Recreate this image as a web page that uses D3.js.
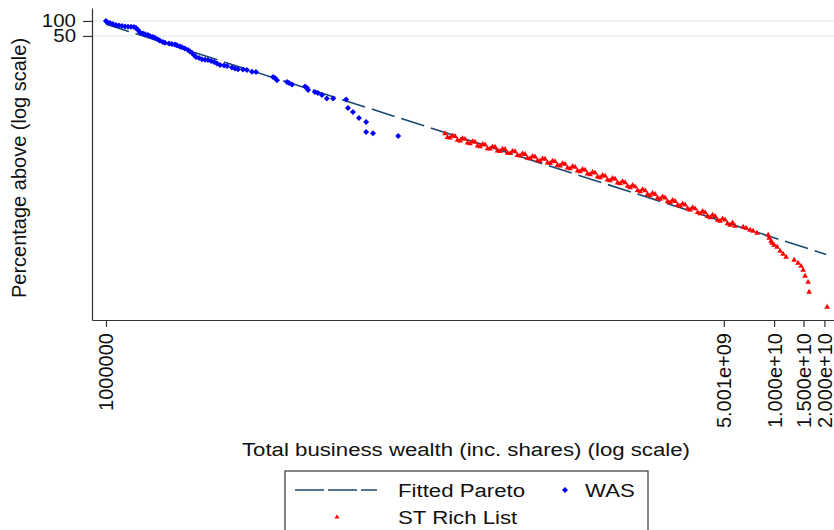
<!DOCTYPE html>
<html>
<head>
<meta charset="utf-8">
<script src="https://cdn.jsdelivr.net/npm/d3@7"></script>
<style>
  body { margin: 0; background: #fff; }
  text { font-family: "Liberation Sans", Arial, sans-serif; fill: #111; }
</style>
</head>
<body>
<div id="graph"></div>
<script>
// WAS survey points (wealth, % of population above)
const wasWealth = [
  1.00e6, 1.014e6, 1.057e6, 1.10e6, 1.148e6, 1.196e6, 1.247e6, 1.30e6, 1.355e6, 1.413e6,
  1.472e6, 1.514e6, 1.556e6, 1.60e6, 1.667e6, 1.714e6, 1.783e6, 1.834e6, 1.91e6, 1.965e6,
  2.05e6, 2.105e6, 2.19e6, 2.255e6, 2.385e6, 2.48e6, 2.59e6, 2.66e6, 2.77e6, 2.85e6,
  2.97e6, 3.10e6, 3.18e6, 3.27e6, 3.365e6, 3.46e6, 3.61e6, 3.76e6, 3.92e6, 4.08e6,
  4.26e6, 4.44e6, 4.62e6, 4.82e6, 5.09e6, 5.31e6, 5.68e6, 5.92e6, 6.17e6, 6.61e6,
  6.98e6, 7.48e6, 7.91e6, 1.0e7, 1.028e7, 1.057e7, 1.213e7, 1.247e7, 1.30e7, 1.556e7,
  1.60e7, 1.622e7, 1.782e7, 1.858e7, 1.963e7, 2.10e7, 2.29e7, 2.74e7, 2.81e7, 3.01e7,
  3.27e7, 3.61e7, 3.61e7, 3.97e7, 5.61e7
];
const wasPct = [
  100, 95.5, 91.2, 87.1, 83.2, 81.3, 79.4, 77.6, 76.9, 76.9,
  75.9, 72.3, 65.9, 58.7, 56.1, 54.1, 52.4, 50.0, 47.7, 46.2,
  42.6, 40.2, 37.9, 36.6, 35.3, 34.5, 33.7, 32.5, 30.8, 29.6,
  28.1, 26.2, 24.4, 23.1, 20.7, 18.9, 18.1, 17.0, 16.7, 16.5,
  15.7, 15.0, 14.0, 13.1, 12.8, 12.5, 11.7, 11.1, 10.7, 10.6,
  10.4, 9.6, 9.5, 7.5, 7.17, 6.5, 5.96, 5.69, 5.31, 4.84,
  4.52, 4.11, 3.75, 3.58, 3.27, 2.78, 2.78, 2.65, 1.79, 1.49,
  1.13, 0.94, 0.59, 0.56, 0.49
];

// Sunday Times rich list points
const richWealth = [
  1.071e8, 1.148e8, 1.230e8, 1.318e8, 1.411e8, 1.512e8, 1.620e8, 1.736e8, 1.860e8, 1.993e8,
  2.135e8, 2.287e8, 2.450e8, 2.626e8, 2.813e8, 3.013e8, 3.228e8, 3.459e8, 3.706e8, 3.970e8,
  4.253e8, 4.557e8, 4.882e8, 5.231e8, 5.604e8, 6.004e8, 6.432e8, 6.891e8, 7.384e8, 7.911e8,
  8.475e8, 9.080e8, 9.728e8, 1.042e9, 1.117e9, 1.196e9, 1.282e9, 1.373e9, 1.471e9, 1.576e9,
  1.689e9, 1.809e9, 1.938e9, 2.077e9, 2.225e9, 2.384e9, 2.554e9, 2.736e9, 2.932e9, 3.141e9,
  3.365e9, 3.605e9, 3.862e9, 4.138e9, 4.434e9, 4.750e9, 5.089e9, 5.452e9,
  1.109e8, 1.188e8, 1.273e8, 1.364e8, 1.461e8, 1.565e8, 1.677e8, 1.797e8, 1.925e8, 2.063e8,
  2.210e8, 2.367e8, 2.536e8, 2.718e8, 2.912e8, 3.119e8, 3.341e8, 3.580e8, 3.836e8, 4.109e8,
  4.402e8, 4.717e8, 5.053e8, 5.415e8, 5.801e8, 6.215e8, 6.658e8, 7.133e8, 7.643e8, 8.189e8,
  8.772e8, 9.399e8, 1.007e9, 1.079e9, 1.156e9, 1.238e9, 1.327e9, 1.421e9, 1.523e9, 1.631e9,
  1.748e9, 1.872e9, 2.006e9, 2.150e9, 2.303e9, 2.468e9, 2.644e9, 2.832e9, 3.035e9, 3.251e9,
  3.483e9, 3.732e9, 3.998e9, 4.283e9, 4.590e9, 4.917e9, 5.268e9, 5.643e9,
  5.84e9, 6.52e9, 6.80e9, 7.18e9, 7.49e9, 7.91e9, 9.21e9, 9.34e9, 9.59e9, 9.73e9,
  1.0e10, 1.042e10, 1.086e10, 1.132e10, 1.18e10, 1.318e10, 1.392e10, 1.451e10, 1.492e10, 1.533e10,
  1.598e10, 1.62e10, 2.077e10
];
const richPct = [
  0.551, 0.449, 0.484, 0.395, 0.425, 0.345, 0.372, 0.302, 0.328, 0.270,
  0.295, 0.243, 0.265, 0.2195, 0.2396, 0.1964, 0.2115, 0.1734, 0.1884, 0.1552,
  0.1694, 0.1389, 0.1510, 0.1237, 0.1338, 0.1087, 0.1170, 0.0950, 0.1019, 0.0831,
  0.0891, 0.0723, 0.0772, 0.0627, 0.0672, 0.0543, 0.0574, 0.0454, 0.0473, 0.0375,
  0.0395, 0.0315, 0.0333, 0.0267, 0.0283, 0.0227, 0.0240, 0.0193, 0.0204, 0.0162,
  0.0171, 0.0136, 0.0143, 0.0114, 0.0120, 0.00963, 0.01019, 0.00801,
  0.4632, 0.4983, 0.4069, 0.4383, 0.3573, 0.3828, 0.3127, 0.3351, 0.2757, 0.2996,
  0.2480, 0.2697, 0.2228, 0.2436, 0.2014, 0.2179, 0.1778, 0.1924, 0.1584, 0.1722,
  0.1424, 0.1541, 0.1269, 0.1373, 0.1125, 0.1206, 0.0984, 0.1054, 0.0857, 0.0922,
  0.0749, 0.0802, 0.0649, 0.0696, 0.0565, 0.0603, 0.0483, 0.0504, 0.0398, 0.0416,
  0.0332, 0.0350, 0.0280, 0.0296, 0.0238, 0.0252, 0.0202, 0.0214, 0.0172, 0.0180,
  0.0144, 0.0151, 0.0120, 0.0127, 0.0101, 0.01069, 0.00857, 0.00889,
  0.00765, 0.00730, 0.00697, 0.00636, 0.00607, 0.00553, 0.00504, 0.00439, 0.00382, 0.00349,
  0.00318, 0.00290, 0.00241, 0.00210, 0.00182, 0.00159, 0.00138, 0.00120, 0.00100, 0.000758,
  0.000574, 0.000362, 0.000181
];

// Fitted Pareto line ends
const paretoWealth = [1.0e6, 2.05e10];
const paretoPct = [86.3, 0.00207];

const xDomain = [8.25e5, 2.48e10];
const yDomain = [1e-4, 182];
const xTicks = [1e6, 5.001e9, 1e10, 1.5e10, 2e10];
const xTickLabels = ["1000000", "5.001e+09", "1.000e+10", "1.500e+10", "2.000e+10"];
const yTicks = [100, 50];

const fullwidth = 834;
const fullheight = 530;
const plotLeft = 92, plotRight = 840, plotTop = 8, plotBottom = 320;
const paretoColor = "#1a476f";
const stretch = 1.17;   // source picture is wider than tall, text looks stretched

const svg = d3.select("#graph").append("svg")
    .attr("width", fullwidth)
    .attr("height", fullheight)
    .style("display", "block")
    .style("background", "#fff");

const x = d3.scaleLog().domain(xDomain).range([plotLeft, plotRight]);
const y = d3.scaleLog().domain(yDomain).range([plotBottom, plotTop]);

// gridlines
svg.append("g").selectAll("line")
    .data(yTicks)
    .enter().append("line")
    .attr("x1", plotLeft).attr("x2", plotRight)
    .attr("y1", d => y(d)).attr("y2", d => y(d))
    .attr("stroke", "#e2ebee")
    .attr("stroke-width", 1.2);

// Fitted Pareto
svg.append("path")
    .datum(d3.zip(paretoWealth, paretoPct))
    .attr("fill", "none")
    .attr("stroke", paretoColor)
    .attr("stroke-width", 1.6)
    .attr("stroke-dasharray", "24,7")
    .attr("d", d3.line().x(d => x(d[0])).y(d => y(d[1])));

// WAS diamonds
const diamond = d3.symbol().type(d3.symbolSquare).size(18);
svg.append("g").selectAll("path")
    .data(d3.zip(wasWealth, wasPct))
    .enter().append("path")
    .attr("d", diamond)
    .attr("transform", d => `translate(${x(d[0])},${y(d[1])}) rotate(45)`)
    .attr("fill", "#0000ff");

// Rich list triangles
const tri = d3.symbol().type(d3.symbolTriangle).size(14);
svg.append("g").selectAll("path")
    .data(d3.zip(richWealth, richPct))
    .enter().append("path")
    .attr("d", tri)
    .attr("transform", d => `translate(${x(d[0])},${y(d[1])})`)
    .attr("fill", "#ff0000");

// axes
const yAxis = svg.append("g")
    .attr("transform", `translate(${plotLeft},0)`)
    .call(d3.axisLeft(y).tickValues(yTicks).tickFormat(d3.format("d")).tickSize(9).tickSizeOuter(0));
const xAxis = svg.append("g")
    .attr("transform", `translate(0,${plotBottom})`)
    .call(d3.axisBottom(x).tickValues(xTicks).tickFormat((d, i) => xTickLabels[i]).tickSize(7).tickSizeOuter(0));

[yAxis, xAxis].forEach(ax => {
    ax.select(".domain").attr("stroke", "#333").attr("stroke-width", 1.2);
    ax.selectAll(".tick line").attr("stroke", "#333").attr("stroke-width", 1.2);
    ax.selectAll("text").attr("font-family", "Liberation Sans, Arial, sans-serif").attr("fill", "#111");
});
yAxis.selectAll("text")
    .attr("font-size", 17.5)
    .attr("x", -16 / stretch)
    .attr("transform", `scale(${stretch},1)`);
xAxis.selectAll("text")
    .attr("font-size", 20)
    .attr("transform", "rotate(-90)")
    .attr("text-anchor", "end")
    .attr("x", -13)
    .attr("y", 0)
    .attr("dy", "0.35em");

// axis titles
svg.append("text")
    .attr("transform", `translate(466,456) scale(${stretch},1)`)
    .attr("text-anchor", "middle")
    .attr("font-size", 19)
    .text("Total business wealth (inc. shares) (log scale)");
svg.append("text")
    .attr("transform", "translate(26,168) rotate(-90)")
    .attr("text-anchor", "middle")
    .attr("font-size", 20)
    .text("Percentage above (log scale)");

// legend
const legend = svg.append("g").attr("class", "legend");
legend.append("rect")
    .attr("x", 285).attr("y", 471)
    .attr("width", 363).attr("height", 75)
    .attr("fill", "#fff")
    .attr("stroke", "#333")
    .attr("stroke-width", 1.2);
legend.append("line")
    .attr("x1", 295).attr("x2", 377)
    .attr("y1", 490).attr("y2", 490)
    .attr("stroke", paretoColor)
    .attr("stroke-width", 1.6)
    .attr("stroke-dasharray", "29,4");
legend.append("path").attr("d", diamond).attr("transform", "translate(565,490) rotate(45)").attr("fill", "#0000ff");
legend.append("path").attr("d", d3.symbol().type(d3.symbolTriangle).size(10)).attr("transform", "translate(337,517)").attr("fill", "#ff0000");

const legendText = [["Fitted Pareto", 398, 497], ["WAS", 585, 497], ["ST Rich List", 398, 524]];
legendText.forEach(([label, lx, ly]) => {
    legend.append("text")
        .attr("transform", `translate(${lx},${ly}) scale(${stretch},1)`)
        .attr("font-size", 19)
        .text(label);
});
</script>
</body>
</html>
